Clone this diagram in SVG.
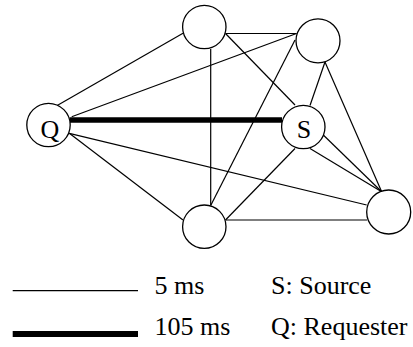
<svg xmlns="http://www.w3.org/2000/svg" width="413" height="347" viewBox="0 0 413 347">
<style>
.node{fill:#fff;stroke:#000;stroke-width:1.3}
.e{stroke:#000;stroke-width:1.2;fill:none}
.thick{stroke:#000;stroke-width:5.5;fill:none}
.lbl{font-size:26px;fill:#000;text-anchor:middle}
.leg{font-size:26px;fill:#000}
</style>
<rect width="413" height="347" fill="#fff"/>
<g id="connectors">
<line class="e" x1="55" y1="106.7" x2="183" y2="33.3"/>
<line class="e" x1="71.7" y1="116.7" x2="296.5" y2="33.5"/>
<line class="thick" x1="69.5" y1="120" x2="282" y2="120"/>
<line class="e" x1="69.3" y1="133.3" x2="183" y2="220"/>
<line class="e" x1="69.3" y1="133.3" x2="366.7" y2="205"/>
<line class="e" x1="225.5" y1="33.5" x2="296.5" y2="33.5"/>
<line class="e" x1="225.5" y1="33.5" x2="295" y2="105"/>
<line class="e" x1="210.7" y1="49" x2="210.7" y2="205.5"/>
<line class="e" x1="295" y1="40" x2="210.7" y2="205.5"/>
<line class="e" x1="325" y1="62" x2="310" y2="105.5"/>
<line class="e" x1="325" y1="62" x2="381.7" y2="191.7"/>
<line class="e" x1="295" y1="148.5" x2="225.5" y2="220"/>
<line class="e" x1="310" y1="148.5" x2="381.7" y2="191.7"/>
<line class="e" x1="323.3" y1="135" x2="381.7" y2="191.7"/>
<line class="e" x1="225.5" y1="220" x2="367" y2="220"/>
</g>
<g font-family="'Liberation Serif', 'Times New Roman', 'DejaVu Serif', serif">
<g id="node-Q"><circle class="node" cx="48.5" cy="125" r="21.7"/><text class="lbl" x="50" y="137.5">Q</text></g>
<g id="node-S"><circle class="node" cx="303.3" cy="127" r="21.7"/><text class="lbl" x="304" y="138">S</text></g>
<g id="node-A"><circle class="node" cx="204.3" cy="27" r="21.7"/></g>
<g id="node-B"><circle class="node" cx="318" cy="40.8" r="22"/></g>
<g id="node-C"><circle class="node" cx="204.3" cy="226.7" r="21.7"/></g>
<g id="node-D"><circle class="node" cx="388.7" cy="212" r="22"/></g>
<g id="legend">
<line class="e" x1="12.7" y1="290.7" x2="138" y2="290.7"/>
<line stroke="#000" stroke-width="6" x1="12.7" y1="334" x2="138" y2="334"/>
<text class="leg" x="154.5" y="294">5 ms</text>
<text class="leg" x="154.5" y="335">105 ms</text>
<text class="leg" x="271" y="294">S: Source</text>
<text class="leg" x="271" y="335">Q: Requester</text>
</g>
</g>
</svg>
